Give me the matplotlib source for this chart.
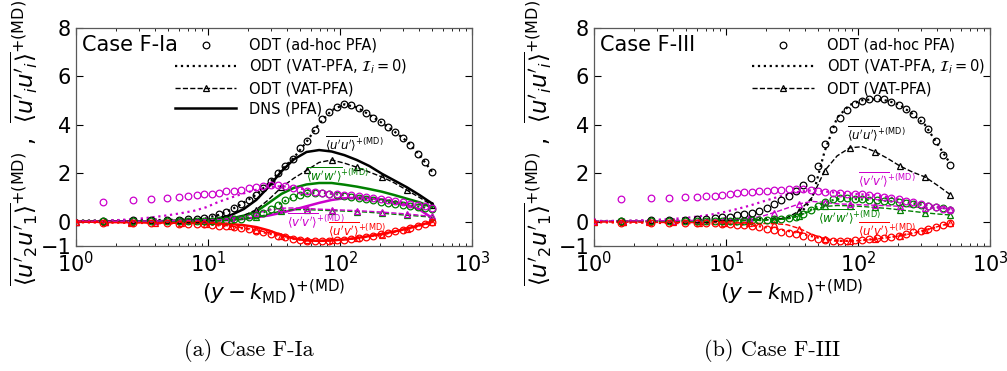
import matplotlib
matplotlib.use("Agg")
import matplotlib.pyplot as plt
from matplotlib.lines import Line2D

# wall-normal positions of the ODT samples (circles) and of the line profiles
x_odt = [1.6, 2.7, 3.7, 4.9, 6.0, 7.1, 8.2, 9.4, 10.7, 12.16, 13.8, 15.7, 17.9, 20.3,
         23.1, 26.2, 29.8, 33.9, 38.5, 43.8, 49.8, 56.6, 64.3, 73.1, 83.1, 94.5, 107,
         122, 139, 158, 179, 204, 232, 263, 299, 340, 387, 440, 500]
x_line = [1.0, 1.34, 1.67, 2.1, 2.6, 3.2, 4.0, 5.0, 6.2, 7.8, 9.7, 12.0, 15.0, 18.6,
          23.2, 28.9, 36.0, 44.8, 55.8, 69.5, 86.5, 108, 134, 167, 208, 259, 322, 401, 500]

# ---- case F-Ia ----
# ODT (ad-hoc PFA), circles
fia_circ_uu = [0.05, 0.06, 0.07, 0.08, 0.09, 0.1, 0.12, 0.15, 0.2, 0.3, 0.4, 0.55, 0.72, 0.9,
               1.1, 1.38, 1.7, 2.0, 2.3, 2.6, 3.05, 3.35, 3.8, 4.25, 4.55, 4.75, 4.85,
               4.82, 4.7, 4.5, 4.3, 4.1, 3.9, 3.7, 3.45, 3.15, 2.8, 2.45, 2.05]
fia_circ_vv = [0.83, 0.9, 0.92, 0.97, 1.02, 1.08, 1.12, 1.13, 1.15, 1.2, 1.25, 1.29, 1.33, 1.38,
               1.43, 1.48, 1.52, 1.52, 1.48, 1.4, 1.33, 1.27, 1.22, 1.19, 1.16, 1.13, 1.12,
               1.1, 1.06, 1.02, 0.97, 0.92, 0.88, 0.84, 0.8, 0.75, 0.7, 0.64, 0.58]
fia_circ_ww = [0.03, 0.03, 0.03, 0.03, 0.03, 0.04, 0.04, 0.05, 0.05, 0.06, 0.08, 0.1, 0.13, 0.18,
               0.26, 0.38, 0.52, 0.7, 0.88, 1.02, 1.12, 1.18, 1.2, 1.19, 1.16, 1.12, 1.08,
               1.03, 0.98, 0.93, 0.88, 0.83, 0.78, 0.74, 0.7, 0.66, 0.62, 0.58, 0.52]
fia_circ_uv = [-0.04, -0.05, -0.06, -0.07, -0.08, -0.09, -0.1, -0.11, -0.13, -0.16, -0.19, -0.22,
               -0.26, -0.31, -0.37, -0.44, -0.51, -0.58, -0.65, -0.71, -0.75, -0.78, -0.79,
               -0.79, -0.78, -0.76, -0.74, -0.71, -0.67, -0.63, -0.58, -0.52, -0.46, -0.4,
               -0.33, -0.26, -0.18, -0.1, -0.02]
# ODT (VAT-PFA, I_i = 0), dotted
fia_dot_uu = [0.05, 0.05, 0.05, 0.06, 0.06, 0.07, 0.07, 0.08, 0.09, 0.11, 0.16, 0.28, 0.5, 0.78,
              1.12, 1.6, 2.15, 2.65, 3.3, 4.05, 4.6, 4.85, 4.72, 4.42, 4.08, 3.72, 3.32, 2.75, 2.05]
fia_dot_vv = [0.02, 0.03, 0.05, 0.07, 0.1, 0.14, 0.2, 0.27, 0.35, 0.45, 0.6, 0.82, 1.0, 1.17,
              1.32, 1.43, 1.47, 1.42, 1.32, 1.24, 1.18, 1.13, 1.07, 1.0, 0.93, 0.86, 0.78, 0.7, 0.6]
fia_dot_ww = [0.02, 0.02, 0.02, 0.02, 0.03, 0.03, 0.03, 0.03, 0.04, 0.04, 0.05, 0.06, 0.09, 0.14,
              0.26, 0.48, 0.78, 1.03, 1.17, 1.2, 1.16, 1.09, 1.0, 0.92, 0.84, 0.76, 0.7, 0.62, 0.54]
fia_dot_uv = [-0.02, -0.03, -0.04, -0.04, -0.05, -0.05, -0.06, -0.07, -0.08, -0.09, -0.11, -0.15,
              -0.21, -0.28, -0.37, -0.49, -0.62, -0.71, -0.77, -0.79, -0.77, -0.74, -0.68,
              -0.61, -0.52, -0.42, -0.3, -0.17, -0.02]
# ODT (VAT-PFA), dashed with triangles
fia_dash_uu = [0.0, 0.01, 0.02, 0.02, 0.03, 0.03, 0.04, 0.05, 0.06, 0.07, 0.08, 0.1, 0.14, 0.25,
               0.5, 0.92, 1.42, 1.8, 2.12, 2.45, 2.55, 2.42, 2.25, 2.05, 1.85, 1.6, 1.3, 1.0, 0.68]
fia_dash_vv = [0.0, 0.01, 0.01, 0.02, 0.02, 0.03, 0.03, 0.04, 0.05, 0.06, 0.08, 0.1, 0.14, 0.22,
               0.35, 0.48, 0.56, 0.57, 0.55, 0.52, 0.5, 0.48, 0.46, 0.43, 0.4, 0.36, 0.32, 0.27, 0.22]
fia_dash_ww = [0.0, 0.01, 0.01, 0.01, 0.01, 0.02, 0.02, 0.02, 0.02, 0.03, 0.03, 0.04, 0.06, 0.1,
               0.18, 0.32, 0.45, 0.5, 0.5, 0.48, 0.46, 0.44, 0.42, 0.39, 0.35, 0.31, 0.27, 0.23, 0.19]
fia_dash_uv = [-0.01, -0.02, -0.03, -0.03, -0.04, -0.04, -0.05, -0.06, -0.07, -0.08, -0.1, -0.13,
               -0.18, -0.25, -0.34, -0.45, -0.58, -0.68, -0.75, -0.78, -0.77, -0.74, -0.69,
               -0.62, -0.53, -0.43, -0.31, -0.17, -0.02]
# DNS (PFA), solid
fia_dns_uu = [0.0, 0.0, 0.01, 0.01, 0.01, 0.02, 0.02, 0.03, 0.04, 0.05, 0.07, 0.13, 0.28, 0.52,
              0.9, 1.45, 2.08, 2.58, 2.88, 2.96, 2.9, 2.75, 2.55, 2.3, 1.98, 1.7, 1.42, 1.1, 0.75]
fia_dns_vv = [0.0, 0.0, 0.0, 0.0, 0.0, 0.0, 0.0, 0.01, 0.01, 0.02, 0.03, 0.05, 0.08, 0.12,
              0.18, 0.26, 0.37, 0.5, 0.64, 0.78, 0.9, 0.97, 0.99, 0.97, 0.92, 0.8, 0.7, 0.5, 0.15]
fia_dns_ww = [0.0, 0.0, 0.0, 0.0, 0.0, 0.0, 0.01, 0.01, 0.02, 0.03, 0.04, 0.07, 0.14, 0.25,
              0.42, 0.78, 1.15, 1.4, 1.54, 1.6, 1.6, 1.53, 1.45, 1.35, 1.24, 1.1, 0.95, 0.8, 0.6]
fia_dns_uv = [0.0, 0.0, -0.01, -0.01, -0.02, -0.02, -0.03, -0.03, -0.04, -0.04, -0.05, -0.07,
              -0.1, -0.14, -0.22, -0.36, -0.55, -0.69, -0.77, -0.79, -0.77, -0.73, -0.67,
              -0.59, -0.5, -0.4, -0.28, -0.14, 0.0]

# ---- case F-III ----
fiii_circ_uu = [0.05, 0.06, 0.07, 0.09, 0.11, 0.13, 0.15, 0.18, 0.21, 0.26, 0.31, 0.37, 0.46,
                0.58, 0.72, 0.88, 1.06, 1.28, 1.52, 1.82, 2.3, 3.2, 3.82, 4.28, 4.62, 4.88, 5.0,
                5.08, 5.1, 5.05, 4.95, 4.83, 4.65, 4.45, 4.2, 3.82, 3.35, 2.75, 2.35]
fiii_circ_vv = [0.94, 0.97, 1.0, 1.02, 1.03, 1.05, 1.08, 1.12, 1.15, 1.18, 1.22, 1.24, 1.26,
                1.28, 1.31, 1.33, 1.35, 1.35, 1.35, 1.32, 1.27, 1.22, 1.2, 1.19, 1.16, 1.14,
                1.14, 1.12, 1.08, 1.03, 0.98, 0.93, 0.87, 0.8, 0.72, 0.66, 0.6, 0.54, 0.5]
fiii_circ_ww = [0.03, 0.03, 0.03, 0.03, 0.03, 0.04, 0.04, 0.04, 0.05, 0.05, 0.05, 0.06, 0.07,
                0.08, 0.1, 0.12, 0.15, 0.2, 0.32, 0.5, 0.65, 0.83, 0.94, 0.97, 0.96, 0.94, 0.92,
                0.9, 0.88, 0.86, 0.84, 0.81, 0.78, 0.74, 0.7, 0.65, 0.6, 0.55, 0.5]
fiii_circ_uv = [-0.04, -0.05, -0.05, -0.06, -0.06, -0.07, -0.07, -0.08, -0.09, -0.12, -0.15,
                -0.18, -0.22, -0.29, -0.36, -0.42, -0.46, -0.5, -0.57, -0.64, -0.71, -0.76,
                -0.79, -0.8, -0.79, -0.77, -0.75, -0.72, -0.69, -0.66, -0.63, -0.57, -0.5,
                -0.44, -0.38, -0.29, -0.21, -0.13, -0.05]
fiii_dot_uu = [0.03, 0.03, 0.03, 0.04, 0.04, 0.04, 0.05, 0.05, 0.06, 0.07, 0.08, 0.09, 0.1, 0.11,
               0.12, 0.15, 0.28, 0.95, 2.9, 4.3, 4.82, 5.02, 5.06, 5.0, 4.82, 4.45, 4.0, 3.2, 2.4]
fiii_dot_vv = [0.03, 0.03, 0.04, 0.05, 0.07, 0.09, 0.12, 0.16, 0.22, 0.3, 0.4, 0.52, 0.66, 0.82,
               0.98, 1.12, 1.24, 1.3, 1.25, 1.2, 1.16, 1.13, 1.09, 1.02, 0.94, 0.84, 0.72, 0.62, 0.55]
fiii_dot_ww = [0.02, 0.02, 0.02, 0.02, 0.02, 0.03, 0.03, 0.03, 0.03, 0.04, 0.04, 0.05, 0.06, 0.07,
               0.09, 0.13, 0.24, 0.52, 0.8, 0.94, 0.95, 0.92, 0.89, 0.86, 0.81, 0.75, 0.68, 0.6, 0.52]
fiii_dot_uv = [-0.02, -0.03, -0.03, -0.04, -0.04, -0.05, -0.05, -0.06, -0.07, -0.08, -0.09,
               -0.11, -0.14, -0.2, -0.28, -0.37, -0.47, -0.6, -0.72, -0.79, -0.79, -0.76, -0.71,
               -0.65, -0.57, -0.47, -0.35, -0.21, -0.06]
fiii_dash_uu = [0.02, 0.02, 0.03, 0.03, 0.03, 0.04, 0.04, 0.04, 0.05, 0.05, 0.06, 0.06, 0.07, 0.08,
                0.1, 0.16, 0.45, 1.0, 2.1, 2.72, 3.05, 3.1, 2.9, 2.62, 2.3, 2.05, 1.85, 1.5, 1.12]
fiii_dash_vv = [0.02, 0.02, 0.03, 0.03, 0.04, 0.04, 0.05, 0.05, 0.06, 0.07, 0.08, 0.1, 0.14, 0.22,
                0.38, 0.56, 0.74, 0.84, 0.8, 0.74, 0.72, 0.7, 0.68, 0.66, 0.64, 0.61, 0.58, 0.56, 0.53]
fiii_dash_ww = [0.01, 0.01, 0.01, 0.02, 0.02, 0.02, 0.02, 0.02, 0.03, 0.03, 0.03, 0.04, 0.05, 0.06,
                0.08, 0.12, 0.25, 0.48, 0.63, 0.67, 0.66, 0.63, 0.59, 0.55, 0.49, 0.43, 0.37, 0.32, 0.28]
fiii_dash_uv = [-0.01, -0.01, -0.02, -0.02, -0.02, -0.03, -0.03, -0.03, -0.04, -0.04, -0.05,
                -0.05, -0.06, -0.07, -0.08, -0.12, -0.28, -0.52, -0.7, -0.79, -0.8, -0.77, -0.72,
                -0.66, -0.58, -0.48, -0.35, -0.2, -0.05]

colors = {"uu": "black", "vv": "#cc00cc", "ww": "#008000", "uv": "red"}
comp_labels = {
    "uu": r"$\overline{\langle u'u'\rangle}^{+(\mathrm{MD})}$",
    "vv": r"$\overline{\langle v'v'\rangle}^{+(\mathrm{MD})}$",
    "ww": r"$\overline{\langle w'w'\rangle}^{+(\mathrm{MD})}$",
    "uv": r"$\overline{\langle u'v'\rangle}^{+(\mathrm{MD})}$",
}

panels = [
    dict(title="Case F-Ia", caption="(a) Case F-Ia",
         circ={"uu": fia_circ_uu, "vv": fia_circ_vv, "ww": fia_circ_ww, "uv": fia_circ_uv},
         dot={"uu": fia_dot_uu, "vv": fia_dot_vv, "ww": fia_dot_ww, "uv": fia_dot_uv},
         dash={"uu": fia_dash_uu, "vv": fia_dash_vv, "ww": fia_dash_ww, "uv": fia_dash_uv},
         dns={"uu": fia_dns_uu, "vv": fia_dns_vv, "ww": fia_dns_ww, "uv": fia_dns_uv},
         labpos={"uu": (77, 3.2), "ww": (55, 1.95), "vv": (40, 0.05), "uv": (81, -0.35)},
         left=0.0755, leg_x=0.25, ylab_x=-0.092, cap_x=0.247),
    dict(title="Case F-III", caption="(b) Case F-III",
         circ={"uu": fiii_circ_uu, "vv": fiii_circ_vv, "ww": fiii_circ_ww, "uv": fiii_circ_uv},
         dot={"uu": fiii_dot_uu, "vv": fiii_dot_vv, "ww": fiii_dot_ww, "uv": fiii_dot_uv},
         dash={"uu": fiii_dash_uu, "vv": fiii_dash_vv, "ww": fiii_dash_ww, "uv": fiii_dash_uv},
         dns=None,
         labpos={"uu": (83, 3.65), "vv": (100, 1.72), "ww": (50, 0.2), "uv": (100, -0.35)},
         left=0.5899, leg_x=0.40, ylab_x=-0.102, cap_x=0.767),
]

fig = plt.figure(figsize=(10.07, 3.71), dpi=100)

for p in panels:
    ax = fig.add_axes([p["left"], 0.337, 0.3932, 0.5876])
    for c in ["uu", "ww", "vv", "uv"]:
        col = colors[c]
        if p["dns"] is not None:
            ax.plot(x_line, p["dns"][c], "-", color=col, lw=1.8, zorder=3)
        ax.plot(x_line, p["dash"][c], "--", color=col, lw=1.0, marker="^", ms=4.5,
                mfc="none", mew=0.9, markevery=2, zorder=4)
        ax.plot(x_line, p["dot"][c], ":", color=col, lw=1.6, zorder=4)
        ax.plot(x_odt, p["circ"][c], "o", color=col, ms=4.8, mfc="none", mew=0.9, zorder=5)
        lx, ly = p["labpos"][c]
        ax.text(lx, ly, comp_labels[c], color=col, fontsize=8.5, va="center", ha="left",
                zorder=6)

    ax.set_xscale("log")
    ax.set_xlim(1, 1000)
    ax.set_ylim(-1, 8)
    ax.set_yticks([-1, 0, 2, 4, 6, 8])
    ax.tick_params(which="both", direction="in", top=True, right=True, labelsize=15)
    ax.tick_params(which="major", length=5)
    ax.tick_params(which="minor", length=2.5)
    for s in ax.spines.values():
        s.set_color("0.35")
        s.set_linewidth(0.9)

    ax.set_xlabel(r"$(y-k_{\mathrm{MD}})^{+(\mathrm{MD})}$", fontsize=15.5, labelpad=1)
    ax.set_ylabel(r"$\overline{\langle u'_2u'_1\rangle}^{+(\mathrm{MD})}$ ,  "
                  r"$\overline{\langle u'_iu'_i\rangle}^{+(\mathrm{MD})}$", fontsize=16.5)
    ax.yaxis.set_label_coords(p["ylab_x"], 0.47)
    ax.text(0.015, 0.92, p["title"], transform=ax.transAxes, fontsize=15, va="center")

    handles = [
        Line2D([], [], ls="none", marker="o", ms=4.8, mfc="none", mew=0.9, color="k"),
        Line2D([], [], ls=":", lw=1.6, color="k"),
        Line2D([], [], ls="--", lw=1.0, marker="^", ms=4.5, mfc="none", mew=0.9, color="k"),
    ]
    labels = ["ODT (ad-hoc PFA)", r"ODT (VAT-PFA, $\mathcal{I}_i=0$)", "ODT (VAT-PFA)"]
    if p["dns"] is not None:
        handles.append(Line2D([], [], ls="-", lw=1.8, color="k"))
        labels.append("DNS (PFA)")
    ax.legend(handles, labels, loc="upper left", bbox_to_anchor=(p["leg_x"], 0.955),
              frameon=False, fontsize=10.5, handlelength=4.2, handletextpad=0.9,
              labelspacing=0.35, borderpad=0, borderaxespad=0)

    fig.text(p["cap_x"], 0.054, p["caption"], family="cmr10", fontsize=16,
             ha="center", va="center")

fig.savefig("out.png", dpi=100)
